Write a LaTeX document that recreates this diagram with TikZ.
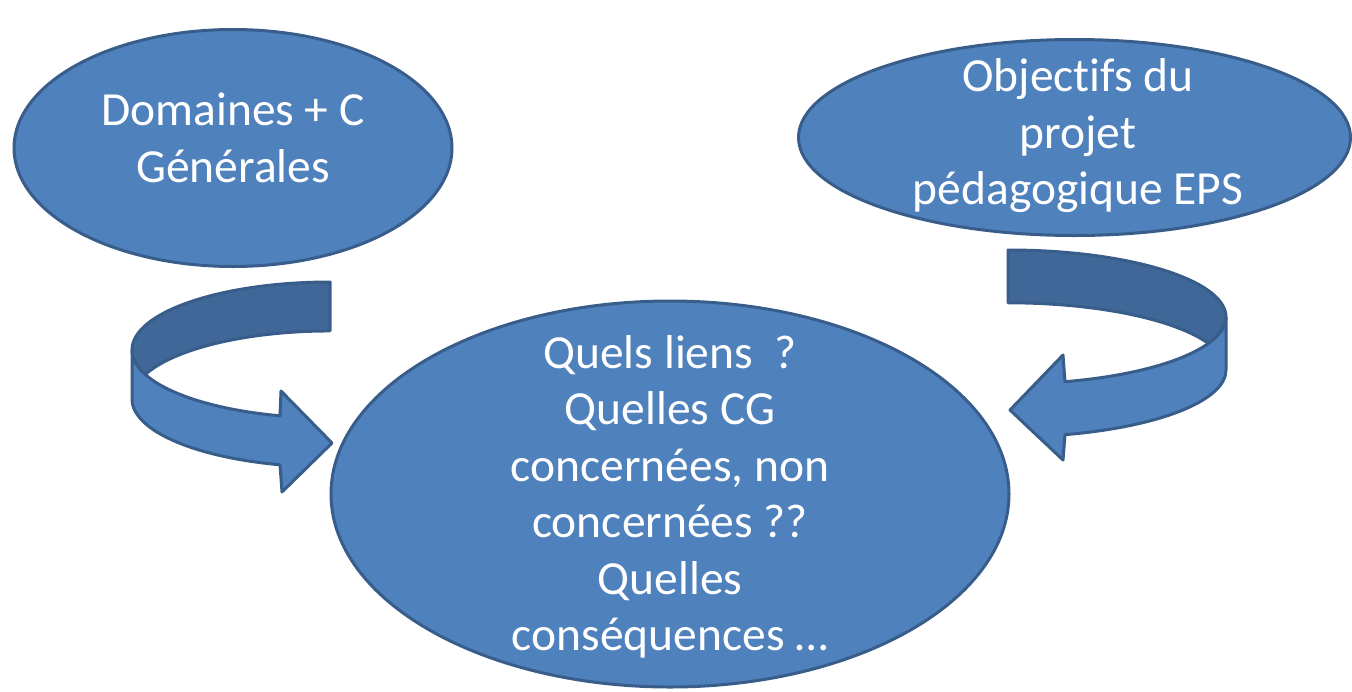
\documentclass[tikz,border=0pt]{standalone}
\usepackage{fontspec}
\setmainfont{Carlito}[Ligatures=NoCommon]
\usepackage{tikz}
\usetikzlibrary{shapes.geometric,positioning}
\definecolor{bleu}{HTML}{4F81BD}
\definecolor{bord}{HTML}{385D8A}
\definecolor{bleuf}{HTML}{3F6797}
\tikzset{
  bulle/.style={ellipse,draw=bord,fill=bleu,line width=3pt,inner sep=0pt},
  txt/.style={text=white,align=center,inner sep=0pt,font=\fontsize{47.5}{56.5}\selectfont},
  fleche/.style={draw=bord,fill=bleu,line width=3pt},
  dos/.style={draw=bord,fill=bleuf,line width=3pt}
}

\begin{document}
\begin{tikzpicture}[line cap=round,line join=round,x=1pt,y=-1pt]
\useasboundingbox (0,0) rectangle (1352,691);
% les bulles
\node[bulle,minimum width=438pt,minimum height=237pt] (domaines) at (233,148) {};
\node[bulle,minimum width=552pt,minimum height=196pt] (objectifs) at (1074.5,137.5) {};
\node[bulle,minimum width=678pt,minimum height=386pt] (liens) at (670,494) {};
\node[txt] (domainesT) at (233,138) {Domaines + C\\Générales};
\node[txt] (objectifsT) at (1078,136) {Objectifs du\\projet\\pédagogique EPS};
\node[txt] (liensT) at (670,497) {Quels liens\ \ ?\\Quelles CG\\concernées, non\\concernées ??\\Quelles\\conséquences …};
% fleche de gauche
\draw[dos] (330,282) arc (270:180:198 and 68) arc (180:158.9:198 and 68) arc (201.1:270:198 and 68) -- cycle;
\draw[fleche] (132,350) -- (132,399) arc (180:104.63:198 and 68) -- (282,492) -- (332,443) -- (281,391) -- (280,415.8) arc (104.63:180:198 and 68) -- cycle;
% fleche de droite
\draw[dos] (1008,250) arc (270:360:218 and 67) arc (0:23.2:218 and 67) arc (336.8:270:218 and 67) -- cycle;
\draw[fleche] (1226,317) -- (1226,370) arc (0:74.84:218 and 67) -- (1063,460) -- (1010,410) -- (1063,355) -- (1065,381.7) arc (74.84:0:218 and 67) -- cycle;
\end{tikzpicture}
\end{document}
